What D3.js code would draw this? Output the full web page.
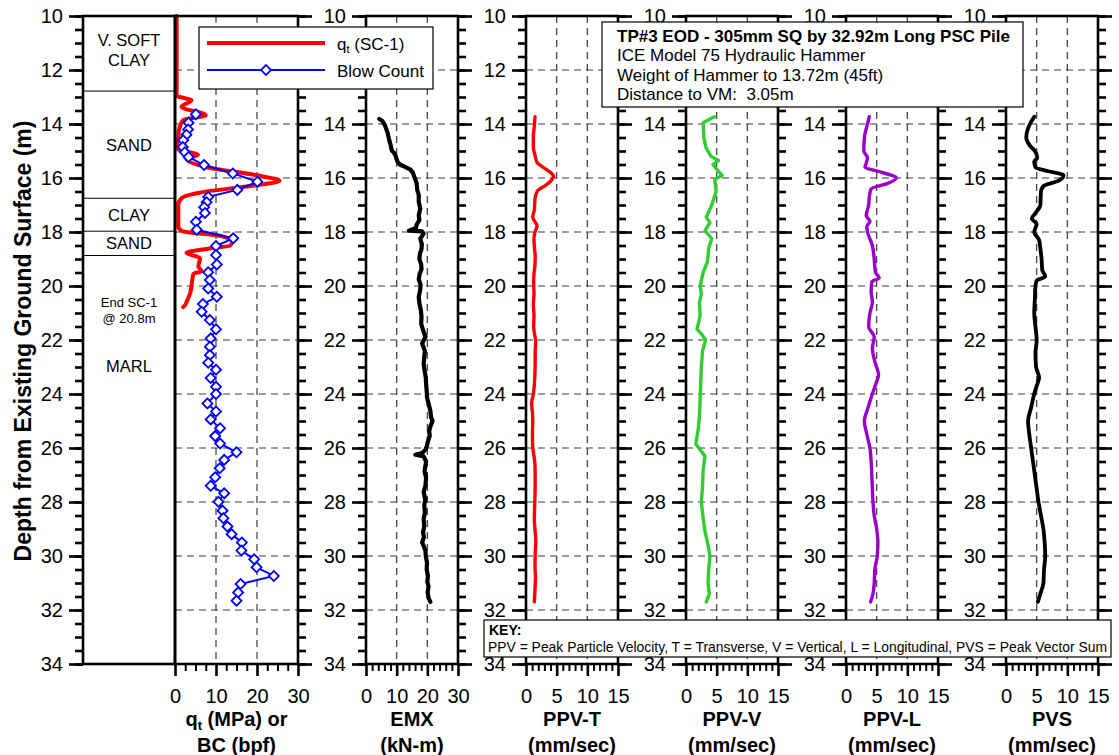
<!DOCTYPE html>
<html>
<head>
<meta charset="utf-8">
<script src="https://cdn.jsdelivr.net/npm/d3@7"></script>
<style>
  body { margin: 0; background: #fff; }
  svg { display: block; font-family: "Liberation Sans", Arial, Helvetica, sans-serif; }
</style>
</head>
<body>
<svg id="chart" width="1119" height="755"></svg>
<script>
// ---------------- data ----------------
// depth axis (m)
const depthLabels = [10, 12, 14, 16, 18, 20, 22, 24, 26, 28, 30, 32, 34];
const gridDepths = [12, 14, 16, 18, 20, 22, 24, 26, 28, 30, 32];

// soil log (m)
const soilBoundaries = [12.78, 16.75, 17.97, 18.87];
const soilNames = [["V. SOFT", "CLAY"], ["SAND"], ["CLAY"], ["SAND"], ["MARL"]];
const soilNote = ["End SC-1", "@ 20.8m"];

// cone tip resistance qt (SC-1): [depth m, MPa]
const qtProfile = [
  [10.0, 0.4], [12.95, 0.4], [13.12, 4.0], [13.36, 1.6], [13.68, 7.5], [13.85, 2.0],
  [14.2, 1.0], [14.6, 0.7], [14.9, 0.4], [15.15, 5.6], [15.3, 2.8], [15.6, 7.7],
  [15.9, 19.9], [16.1, 25.5], [16.3, 18.3], [16.5, 7.7], [16.75, 1.6], [17.0, 0.8],
  [17.8, 0.8], [17.96, 1.7], [18.16, 11.5], [18.36, 13.9], [18.5, 13.5], [18.62, 8.0],
  [18.77, 2.8], [18.97, 6.1], [19.28, 5.7], [19.45, 6.5], [19.55, 4.5], [19.9, 4.1],
  [20.27, 3.7], [20.58, 2.85], [20.72, 2.4], [20.78, 2.0]
];

// blow count: [depth m, blows per foot]
const blowCount = [
  [13.64, 5.1], [13.95, 3.3], [14.2, 3.2], [14.4, 2.8], [14.6, 2.0], [14.85, 1.9],
  [15.05, 2.4], [15.22, 3.3], [15.52, 7.1], [15.83, 14.1], [16.14, 20.1], [16.44, 15.2],
  [16.7, 8.1], [16.9, 7.7], [17.08, 7.1], [17.3, 7.3], [17.62, 5.1], [17.92, 5.3],
  [18.23, 14.2], [18.52, 10.0], [18.85, 10.0], [19.2, 10.2], [19.49, 8.1], [19.78, 8.5],
  [20.09, 8.1], [20.4, 10.2], [20.67, 6.8], [20.95, 6.5], [21.26, 8.5], [21.6, 10.0],
  [21.94, 8.7], [22.25, 8.5], [22.56, 8.5], [22.84, 8.1], [23.1, 10.0], [23.41, 8.7],
  [23.73, 10.0], [24.0, 10.0], [24.35, 7.9], [24.65, 10.0], [24.94, 8.7], [25.27, 11.0],
  [25.56, 9.8], [25.83, 11.0], [26.16, 15.0], [26.44, 12.0], [26.75, 10.9], [27.08, 9.8],
  [27.4, 8.7], [27.68, 12.0], [27.99, 10.6], [28.32, 11.6], [28.6, 11.8], [28.91, 12.8],
  [29.19, 13.8], [29.5, 16.3], [29.8, 16.2], [30.12, 19.3], [30.42, 19.9], [30.74, 24.1],
  [31.04, 16.0], [31.35, 15.4], [31.66, 15.0]
];

// hammer energy EMX: [depth m, kN-m]
const emx = [
  [13.81, 4.3], [13.9, 5.4], [14.06, 6.2], [14.31, 7.0], [14.56, 7.5], [14.81, 8.1],
  [14.98, 8.4], [15.06, 9.1], [15.19, 9.7], [15.38, 10.2], [15.5, 11.0], [15.6, 12.9],
  [15.69, 14.5], [15.81, 15.3], [16.0, 15.9], [16.19, 16.5], [16.44, 16.7], [16.63, 17.2],
  [16.88, 17.2], [17.13, 17.7], [17.38, 17.2], [17.56, 17.4], [17.73, 16.5], [17.85, 16.3],
  [17.95, 14.0], [17.98, 18.3], [18.06, 18.8], [18.25, 17.7], [18.45, 18.2], [18.63, 18.1],
  [18.8, 17.6], [19.0, 17.4], [19.2, 18.0], [19.38, 18.1], [19.55, 17.5], [19.75, 17.2],
  [19.95, 17.8], [20.13, 17.7], [20.4, 17.2], [20.63, 17.4], [20.9, 17.9], [21.13, 18.1],
  [21.4, 18.0], [21.63, 18.6], [21.88, 19.4], [22.13, 18.3], [22.4, 19.2], [22.63, 19.0],
  [22.9, 18.8], [23.13, 19.1], [23.4, 19.5], [23.63, 19.6], [23.9, 19.8], [24.13, 19.9],
  [24.4, 20.5], [24.63, 21.0], [24.85, 21.2], [25.0, 21.7], [25.2, 21.0], [25.38, 20.6],
  [25.55, 20.8], [25.75, 20.2], [25.95, 19.8], [26.06, 19.4], [26.19, 18.3], [26.25, 16.1],
  [26.31, 18.8], [26.5, 19.6], [26.7, 19.3], [26.88, 19.1], [27.1, 19.6], [27.38, 19.4],
  [27.63, 18.8], [27.9, 19.3], [28.13, 19.0], [28.4, 19.2], [28.63, 18.8], [28.9, 19.0],
  [29.13, 18.6], [29.3, 18.9], [29.5, 18.3], [29.65, 18.9], [29.81, 19.4], [30.0, 19.5],
  [30.25, 19.9], [30.5, 19.8], [30.75, 20.2], [30.95, 20.0], [31.13, 20.4], [31.35, 20.1],
  [31.56, 20.4], [31.7, 21.0]
];

// peak particle velocity, transverse: [depth m, mm/s]
const ppvT = [
  [13.73, 1.47], [14.07, 1.36], [14.47, 1.2], [14.88, 1.2], [15.15, 1.47], [15.42, 1.8],
  [15.62, 2.9], [15.8, 4.0], [15.93, 4.5], [16.12, 4.0], [16.3, 3.0], [16.47, 1.9],
  [16.77, 1.47], [17.18, 1.36], [17.45, 1.1], [17.58, 1.36], [17.78, 1.8], [17.99, 1.47],
  [18.25, 1.3], [18.53, 1.36], [18.9, 1.5], [19.2, 1.47], [19.55, 1.3], [19.88, 1.25],
  [20.3, 1.3], [20.69, 1.2], [21.1, 1.3], [21.5, 1.25], [21.8, 1.4], [22.04, 1.6],
  [22.45, 1.5], [22.85, 1.5], [23.25, 1.45], [23.66, 1.36], [24.0, 1.2], [24.34, 0.92],
  [24.7, 1.05], [25.01, 1.1], [25.5, 1.05], [25.96, 1.1], [26.3, 1.3], [26.64, 1.47],
  [27.2, 1.5], [27.72, 1.47], [28.2, 1.4], [28.66, 1.36], [29.1, 1.5], [29.47, 1.6],
  [29.9, 1.5], [30.42, 1.47], [30.8, 1.55], [31.23, 1.47], [31.7, 1.36]
];

// peak particle velocity, vertical: [depth m, mm/s]
const ppvV = [
  [13.73, 4.6], [13.95, 2.8], [14.5, 2.9], [14.9, 3.3], [15.2, 4.1], [15.35, 5.3],
  [15.5, 4.4], [15.65, 4.9], [15.9, 5.9], [16.05, 4.7], [16.5, 4.9], [17.0, 4.2],
  [17.45, 3.3], [17.65, 3.9], [17.95, 3.1], [18.25, 4.2], [18.6, 3.7], [19.1, 3.5],
  [19.5, 2.8], [20.0, 2.3], [20.3, 2.5], [20.6, 2.2], [21.1, 2.3], [21.6, 1.8],
  [21.8, 2.6], [22.0, 3.2], [22.4, 2.7], [23.0, 2.5], [23.6, 2.4], [24.2, 2.3],
  [24.8, 2.2], [25.3, 2.0], [25.85, 1.6], [26.3, 3.1], [26.8, 2.8], [27.4, 2.7],
  [28.0, 2.5], [28.6, 2.8], [29.1, 3.1], [29.6, 3.6], [30.0, 3.9], [30.5, 3.7],
  [31.0, 3.6], [31.4, 3.8], [31.7, 3.3]
];

// peak particle velocity, longitudinal: [depth m, mm/s]
const ppvL = [
  [13.73, 3.8], [14.0, 3.5], [14.5, 3.0], [15.0, 2.9], [15.25, 3.5], [15.45, 3.3],
  [15.6, 3.1], [15.75, 5.2], [16.0, 8.2], [16.2, 6.8], [16.4, 4.1], [16.7, 3.8],
  [17.0, 3.7], [17.4, 3.3], [17.6, 3.9], [17.8, 3.4], [18.0, 3.5], [18.5, 4.3],
  [19.0, 4.6], [19.5, 4.8], [19.7, 5.4], [19.85, 4.2], [20.2, 4.1], [20.6, 4.3],
  [21.0, 3.9], [21.5, 3.7], [21.9, 4.6], [22.3, 4.3], [22.8, 4.7], [23.3, 5.3],
  [23.6, 4.9], [24.0, 4.3], [24.5, 3.6], [25.0, 3.0], [25.5, 3.4], [26.0, 3.9],
  [26.5, 4.1], [27.0, 4.2], [27.5, 4.3], [28.0, 4.4], [28.5, 4.6], [29.0, 5.0],
  [29.5, 5.2], [30.0, 5.1], [30.5, 4.7], [31.0, 4.6], [31.4, 4.4], [31.7, 4.0]
];

// peak vector sum: [depth m, mm/s]
const pvs = [
  [13.73, 4.6], [14.0, 3.9], [14.5, 3.3], [14.8, 3.9], [15.0, 4.7], [15.25, 5.1],
  [15.4, 4.6], [15.6, 4.8], [15.75, 6.9], [15.9, 9.4], [16.1, 8.6], [16.3, 6.1],
  [16.5, 5.7], [17.0, 5.6], [17.3, 4.8], [17.5, 4.2], [17.7, 5.0], [18.0, 4.6],
  [18.3, 5.4], [18.6, 5.6], [19.0, 5.8], [19.4, 5.9], [19.65, 6.4], [19.8, 5.0],
  [20.0, 4.8], [20.5, 4.7], [21.0, 4.6], [21.5, 4.8], [22.0, 5.0], [22.5, 4.8],
  [23.0, 4.9], [23.4, 5.4], [23.7, 5.0], [24.0, 4.6], [24.5, 4.1], [25.0, 3.6],
  [25.5, 3.8], [26.0, 4.1], [26.5, 4.4], [27.0, 4.7], [27.5, 5.0], [28.0, 5.3],
  [28.5, 5.7], [29.0, 6.1], [29.5, 6.3], [30.0, 6.4], [30.5, 6.2], [31.0, 6.1],
  [31.4, 5.6], [31.7, 5.2]
];

// x tick labels
const qtTicks = [0, 10, 20, 30];
const emxTicks = [0, 10, 20, 30];
const ppvTicks = [0, 5, 10, 15];

// text blocks
const titleLines = [
  "TP#3 EOD - 305mm SQ by 32.92m Long PSC Pile",
  "ICE Model 75 Hydraulic Hammer",
  "Weight of Hammer to 13.72m (45ft)",
  "Distance to VM:  3.05m"
];
const keyLines = [
  "KEY:",
  "PPV = Peak Particle Velocity, T = Transverse, V = Vertical, L = Longitudinal, PVS = Peak Vector Sum"
];

// ---------------- layout ----------------
const TOP = 16, BOTTOM = 664;
const svg = d3.select("#chart");
const y = d3.scaleLinear().domain([10, 34]).range([TOP, BOTTOM]);
const minorDepths = d3.range(10, 34.01, 0.5);

// depth labels that would sit under the legend / description boxes are left out
const panels = [
  { id: "qt", x0: 175, x1: 298, domain: [0, 30], ticks: qtTicks, minorStep: 2.5,
    leftAxis: false, title: null },
  { id: "emx", x0: 366, x1: 458, domain: [0, 30], ticks: emxTicks, minorStep: 2,
    leftAxis: true, skipLabels: [12], title: ["EMX", "(kN-m)"] },
  { id: "ppvT", x0: 526, x1: 618, domain: [0, 15], ticks: ppvTicks, minorStep: 1,
    leftAxis: true, skipLabels: [], title: ["PPV-T", "(mm/sec)"] },
  { id: "ppvV", x0: 686, x1: 778, domain: [0, 15], ticks: ppvTicks, minorStep: 1,
    leftAxis: true, skipLabels: [12], title: ["PPV-V", "(mm/sec)"] },
  { id: "ppvL", x0: 846, x1: 938, domain: [0, 15], ticks: ppvTicks, minorStep: 1,
    leftAxis: true, skipLabels: [12], title: ["PPV-L", "(mm/sec)"] },
  { id: "pvs", x0: 1006, x1: 1098, domain: [0, 15], ticks: ppvTicks, minorStep: 1,
    leftAxis: true, skipLabels: [12], title: ["PVS", "(mm/sec)"] }
];
panels.forEach(p => { p.x = d3.scaleLinear().domain(p.domain).range([p.x0, p.x1]); });
const P = Object.fromEntries(panels.map(p => [p.id, p]));

const AXIS_W = 2.6;
const gridColor = "#3a3a3a";

// ---------------- helpers ----------------
function styleAxis(sel, width) {
  sel.select(".domain").remove();
  sel.selectAll(".tick line").attr("stroke", "#000").attr("stroke-width", width);
  sel.selectAll(".tick text")
    .attr("fill", "#000")
    .style("font-family", "\"Liberation Sans\", Arial, sans-serif")
    .style("font-size", "20px");
}

function depthAxis(xPos, side, withLabels, skip) {
  const make = side === "left" ? d3.axisLeft : d3.axisRight;
  const hidden = skip || [];
  svg.append("g").attr("transform", `translate(${xPos},0)`)
    .call(make(y).tickValues(minorDepths).tickSize(8).tickFormat(""))
    .call(s => styleAxis(s, AXIS_W));
  svg.append("g").attr("transform", `translate(${xPos},0)`)
    .call(make(y).tickValues(depthLabels).tickSize(14).tickPadding(6)
      .tickFormat(d => (withLabels && !hidden.includes(d)) ? d3.format("d")(d) : ""))
    .call(s => styleAxis(s, AXIS_W));
}

// ---------------- soil column ----------------
const soilX0 = 83, soilX1 = 175;
svg.append("rect").attr("x", soilX0).attr("y", TOP)
  .attr("width", soilX1 - soilX0).attr("height", BOTTOM - TOP).attr("fill", "#fff");

svg.append("g").selectAll("line").data(soilBoundaries).join("line")
  .attr("x1", soilX0).attr("x2", soilX1)
  .attr("y1", d => y(d)).attr("y2", d => y(d))
  .attr("stroke", "#000").attr("stroke-width", 1);

const soilEdges = [10, ...soilBoundaries];
const soilLabelG = svg.append("g").attr("text-anchor", "middle")
  .style("font-size", "16.5px").attr("fill", "#000");
soilNames.forEach((lines, i) => {
  const top = soilEdges[i];
  const bot = i + 1 < soilEdges.length ? soilEdges[i + 1] : null;
  // the lowest layer label sits a few metres below the cone refusal note
  const mid = bot === null ? 22.97 : (top + bot) / 2 - (lines.length > 1 ? 0.14 : 0);
  const lineH = 20;
  lines.forEach((t, k) => {
    soilLabelG.append("text")
      .attr("x", (soilX0 + soilX1) / 2)
      .attr("y", y(mid) + 6 + (k - (lines.length - 1) / 2) * lineH)
      .text(t);
  });
});
const noteG = svg.append("g").attr("text-anchor", "middle").style("font-size", "13px");
soilNote.forEach((t, k) => {
  noteG.append("text").attr("x", (soilX0 + soilX1) / 2)
    .attr("y", y(20.6) + 5 + k * 15.5).text(t);
});

// ---------------- data panels ----------------
panels.forEach(p => {
  const g = svg.append("g");
  g.append("rect").attr("x", p.x0).attr("y", TOP)
    .attr("width", p.x1 - p.x0).attr("height", BOTTOM - TOP).attr("fill", "#fff");
  // dashed grid
  g.selectAll(".hg").data(gridDepths).join("line")
    .attr("x1", p.x0).attr("x2", p.x1)
    .attr("y1", d => y(d)).attr("y2", d => y(d))
    .attr("stroke", gridColor).attr("stroke-width", 1.2).attr("stroke-dasharray", "7,5");
  g.selectAll(".vg").data(p.ticks.slice(1, -1)).join("line")
    .attr("x1", d => p.x(d)).attr("x2", d => p.x(d))
    .attr("y1", TOP).attr("y2", BOTTOM)
    .attr("stroke", gridColor).attr("stroke-width", 1.2).attr("stroke-dasharray", "7,5");
});

// ---------------- series ----------------
const lineOf = (p, curve) => d3.line()
  .x(d => p.x(d[1])).y(d => y(d[0])).curve(curve || d3.curveLinear);

svg.append("path").datum(qtProfile)
  .attr("d", lineOf(P.qt, d3.curveMonotoneY))
  .attr("fill", "none").attr("stroke", "#ff0000").attr("stroke-width", 4)
  .attr("stroke-linejoin", "round").attr("stroke-linecap", "round");

svg.append("path").datum(blowCount)
  .attr("d", lineOf(P.qt))
  .attr("fill", "none").attr("stroke", "#0000ff").attr("stroke-width", 2);

const diamond = d3.symbol().type(d3.symbolSquare).size(50);
svg.append("g").selectAll("path").data(blowCount).join("path")
  .attr("d", diamond)
  .attr("transform", d => `translate(${P.qt.x(d[1])},${y(d[0])}) rotate(45)`)
  .attr("fill", "#fff").attr("stroke", "#0000ff").attr("stroke-width", 1.8);

const traces = [
  { data: emx, panel: P.emx, color: "#000000", width: 4.2, curve: d3.curveLinear },
  { data: ppvT, panel: P.ppvT, color: "#ff0000", width: 3.4, curve: d3.curveMonotoneY },
  { data: ppvV, panel: P.ppvV, color: "#33cc33", width: 3.4, curve: d3.curveLinear },
  { data: ppvL, panel: P.ppvL, color: "#9900cc", width: 3.4, curve: d3.curveMonotoneY },
  { data: pvs, panel: P.pvs, color: "#000000", width: 3.8, curve: d3.curveMonotoneY }
];
traces.forEach(t => {
  svg.append("path").datum(t.data)
    .attr("d", lineOf(t.panel, t.curve))
    .attr("fill", "none").attr("stroke", t.color).attr("stroke-width", t.width)
    .attr("stroke-linejoin", "round").attr("stroke-linecap", "round");
});

// ---------------- frames and axes ----------------
svg.append("rect").attr("x", soilX0).attr("y", TOP)
  .attr("width", soilX1 - soilX0).attr("height", BOTTOM - TOP)
  .attr("fill", "none").attr("stroke", "#000").attr("stroke-width", AXIS_W);
depthAxis(soilX0, "left", true, []);

panels.forEach(p => {
  svg.append("rect").attr("x", p.x0).attr("y", TOP)
    .attr("width", p.x1 - p.x0).attr("height", BOTTOM - TOP)
    .attr("fill", "none").attr("stroke", "#000").attr("stroke-width", AXIS_W);
  if (p.leftAxis) depthAxis(p.x0, "left", true, p.skipLabels);
  depthAxis(p.x1, "right", false, []);

  const minor = d3.range(p.domain[0], p.domain[1] + 1e-9, p.minorStep)
    .filter(v => !p.ticks.includes(v));
  svg.append("g").attr("transform", `translate(0,${BOTTOM})`)
    .call(d3.axisBottom(p.x).tickValues(minor).tickSize(7).tickFormat(""))
    .call(s => styleAxis(s, 2));
  svg.append("g").attr("transform", `translate(0,${BOTTOM})`)
    .call(d3.axisBottom(p.x).tickValues(p.ticks).tickSize(12).tickPadding(13)
      .tickFormat(d3.format("d")))
    .call(s => styleAxis(s, AXIS_W));

  if (p.title) {
    const tg = svg.append("g").attr("text-anchor", "middle")
      .style("font-weight", "bold").style("font-size", "20px");
    p.title.forEach((t, k) => {
      tg.append("text").attr("x", (p.x0 + p.x1) / 2).attr("y", 726 + k * 26).text(t);
    });
  }
});

// qt / blow count axis title
const qtTitle = svg.append("g").attr("text-anchor", "middle")
  .style("font-weight", "bold").style("font-size", "20px");
const qtLine1 = qtTitle.append("text").attr("x", (P.qt.x0 + P.qt.x1) / 2).attr("y", 726);
qtLine1.append("tspan").text("q");
qtLine1.append("tspan").text("t").style("font-size", "13px").attr("dy", 4);
qtLine1.append("tspan").text(" (MPa) or").attr("dy", -4);
qtTitle.append("text").attr("x", (P.qt.x0 + P.qt.x1) / 2).attr("y", 752).text("BC (bpf)");

// depth axis title
svg.append("text")
  .attr("transform", `translate(31,341) rotate(-90)`)
  .attr("text-anchor", "middle")
  .style("font-weight", "bold").style("font-size", "23px")
  .text("Depth from Existing Ground Surface (m)");

// ---------------- legend ----------------
const lg = svg.append("g");
lg.append("rect").attr("x", 199).attr("y", 27).attr("width", 234).attr("height", 62)
  .attr("fill", "#fff").attr("stroke", "#000").attr("stroke-width", 1.2);
lg.append("line").attr("x1", 207).attr("x2", 325).attr("y1", 43).attr("y2", 43)
  .attr("stroke", "#ff0000").attr("stroke-width", 4);
lg.append("line").attr("x1", 207).attr("x2", 325).attr("y1", 70).attr("y2", 70)
  .attr("stroke", "#0000ff").attr("stroke-width", 2);
lg.append("path").attr("d", diamond).attr("transform", "translate(266,70) rotate(45)")
  .attr("fill", "#fff").attr("stroke", "#0000ff").attr("stroke-width", 1.8);
const lt1 = lg.append("text").attr("x", 337).attr("y", 50).style("font-size", "17px");
lt1.append("tspan").text("q");
lt1.append("tspan").text("t").style("font-size", "11px").attr("dy", 3);
lt1.append("tspan").text(" (SC-1)").attr("dy", -3);
lg.append("text").attr("x", 337).attr("y", 77).style("font-size", "17px").text("Blow Count");

// ---------------- test description box ----------------
const ib = svg.append("g");
ib.append("rect").attr("x", 602).attr("y", 22).attr("width", 421).attr("height", 85)
  .attr("fill", "#fff").attr("stroke", "#000").attr("stroke-width", 1.2);
titleLines.forEach((t, k) => {
  ib.append("text").attr("x", 617).attr("y", 42 + k * 19.3)
    .style("font-size", "17px").style("font-weight", k === 0 ? "bold" : "normal")
    .style("white-space", "pre")
    .text(t);
});

// ---------------- key box ----------------
const kb = svg.append("g");
kb.append("rect").attr("x", 484).attr("y", 620).attr("width", 627).attr("height", 37)
  .attr("fill", "#fff").attr("stroke", "#000").attr("stroke-width", 1.2);
kb.append("text").attr("x", 489).attr("y", 635).style("font-size", "14px")
  .style("font-weight", "bold").text(keyLines[0]);
kb.append("text").attr("x", 488).attr("y", 652).style("font-size", "14px")
  .attr("textLength", 619).attr("lengthAdjust", "spacingAndGlyphs").text(keyLines[1]);
</script>
</body>
</html>
